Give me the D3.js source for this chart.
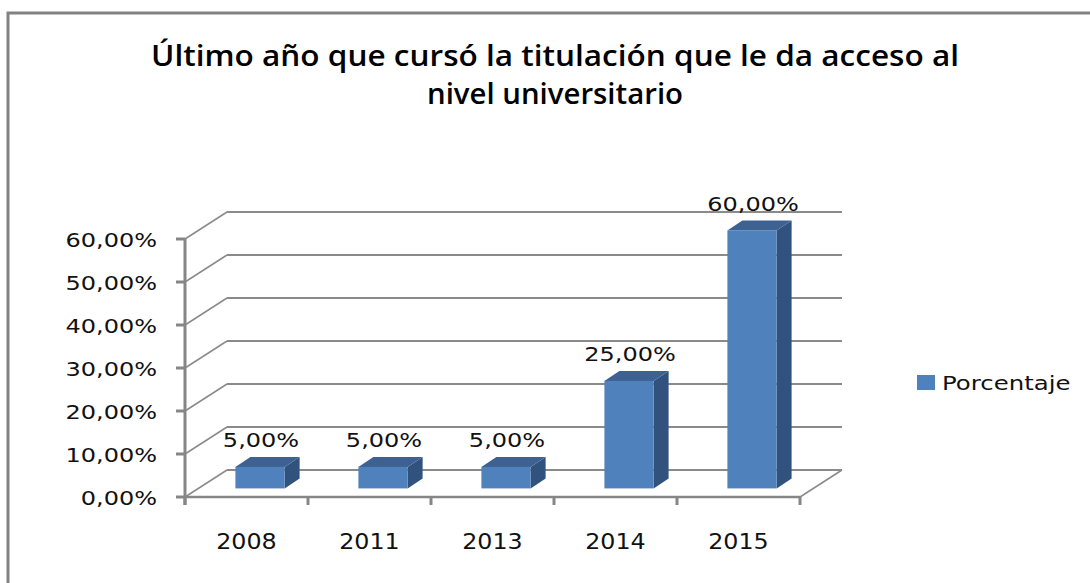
<!DOCTYPE html>
<html>
<head>
<meta charset="utf-8">
<script src="https://cdn.jsdelivr.net/npm/d3@7/dist/d3.min.js"></script>
<style>
  html, body { margin: 0; padding: 0; background: #fff; }
  svg { display: block; }
</style>
</head>
<body>
<svg id="chart" width="1090" height="583"></svg>
<script>
// ---- data ----
const categories = ["2008", "2011", "2013", "2014", "2015"];
const values = [5, 5, 5, 25, 60];
const yTicks = [0, 10, 20, 30, 40, 50, 60];
const seriesName = "Porcentaje";
const titleLines = ["Último año que cursó la titulación que le da acceso al", "nivel universitario"];

const fmt = v => d3.format(".2f")(v).replace(".", ",") + "%";

const svg = d3.select("#chart");
const W = 1090, H = 583;

// outer border (left + top visible)
svg.append("path")
  .attr("d", `M8,${H} L8,13 L${W},13`)
  .attr("fill", "none").attr("stroke", "#828282").attr("stroke-width", 3);

// scales
const x = d3.scaleBand().domain(categories).range([185, 800]);
const y = d3.scaleLinear().domain([0, 60]).range([497, 239]);
const DX = 42, DY = -27;             // wall depth
const BOFF_X = 13.5, BOFF_Y = -8.6;  // bar front offset into depth
const BDX = 15, BDY = -10;           // bar depth
const barW = x.bandwidth() * 0.4;

const gridColor = "#8a8a8a";
const axisColor = "#868686";

function stretch(sel, k) {
  sel.each(function () {
    const len = this.getComputedTextLength();
    d3.select(this).attr("textLength", len * k).attr("lengthAdjust", "spacingAndGlyphs");
  });
}

// back wall gridlines
const grid = svg.append("g");
grid.selectAll("line.back").data(yTicks).join("line")
  .attr("x1", 185 + DX).attr("x2", 800 + DX)
  .attr("y1", d => y(d) + DY).attr("y2", d => y(d) + DY)
  .attr("stroke", gridColor).attr("stroke-width", 2);
// side wall diagonals
grid.selectAll("line.side").data(yTicks).join("line")
  .attr("x1", 185).attr("x2", 185 + DX)
  .attr("y1", d => y(d)).attr("y2", d => y(d) + DY)
  .attr("stroke", gridColor).attr("stroke-width", 1.5);

// floor front edge and right diagonal
svg.append("line").attr("x1", 185).attr("x2", 800).attr("y1", y(0)).attr("y2", y(0))
  .attr("stroke", axisColor).attr("stroke-width", 2.5);
svg.append("line").attr("x1", 800).attr("x2", 800 + DX).attr("y1", y(0)).attr("y2", y(0) + DY)
  .attr("stroke", gridColor).attr("stroke-width", 1.5);

// y axis line & ticks
svg.append("line").attr("x1", 185).attr("x2", 185).attr("y1", y(60)).attr("y2", y(0) + 8)
  .attr("stroke", axisColor).attr("stroke-width", 3);
svg.selectAll("line.ytick").data(yTicks).join("line")
  .attr("x1", 176).attr("x2", 185)
  .attr("y1", d => y(d)).attr("y2", d => y(d))
  .attr("stroke", axisColor).attr("stroke-width", 3);

// category ticks
const catEdges = categories.map(c => x(c) + x.bandwidth()).concat([185]);
svg.selectAll("line.xtick").data(catEdges).join("line")
  .attr("x1", d => d).attr("x2", d => d)
  .attr("y1", y(0)).attr("y2", y(0) + 8)
  .attr("stroke", axisColor).attr("stroke-width", 3);

// y labels
svg.append("g").selectAll("text").data(yTicks).join("text")
  .attr("x", 157).attr("y", d => y(d) + 7.5)
  .attr("text-anchor", "end")
  .attr("font-family", "DejaVu Sans").attr("font-size", 20).attr("fill", "#111")
  .text(d => fmt(d))
  .call(stretch, 1.2);

// x labels
svg.append("g").selectAll("text").data(categories).join("text")
  .attr("x", d => x(d) + x.bandwidth() / 2)
  .attr("y", 549)
  .attr("text-anchor", "middle")
  .attr("font-family", "DejaVu Sans").attr("font-size", 22).attr("fill", "#111")
  .text(d => d)
  .call(stretch, 1.08);

// bars
const data = categories.map((c, i) => ({ c, v: values[i] }));
const bars = svg.append("g");
data.forEach(d => {
  const fx = x(d.c) + x.bandwidth() / 2 - barW / 2 + BOFF_X;
  const ty = y(d.v) + BOFF_Y;
  const by = y(0) + BOFF_Y;
  const g = bars.append("g");
  g.append("polygon")
    .attr("points", [[fx + barW, ty], [fx + barW + BDX, ty + BDY], [fx + barW + BDX, by + BDY], [fx + barW, by]].map(p => p.join(",")).join(" "))
    .attr("fill", "#31527c");
  g.append("polygon")
    .attr("points", [[fx, ty], [fx + BDX, ty + BDY], [fx + barW + BDX, ty + BDY], [fx + barW, ty]].map(p => p.join(",")).join(" "))
    .attr("fill", "#3d6291");
  g.append("rect")
    .attr("x", fx).attr("y", ty).attr("width", barW).attr("height", by - ty)
    .attr("fill", "#4f81bd");
  bars.append("text")
    .attr("x", fx + barW / 2 + 1)
    .attr("y", ty + BDY - 9.5)
    .attr("text-anchor", "middle")
    .attr("font-family", "DejaVu Sans").attr("font-size", 20).attr("fill", "#111")
    .text(fmt(d.v))
    .call(stretch, 1.2);
});

// legend
svg.append("rect").attr("x", 917).attr("y", 375).attr("width", 18).attr("height", 15).attr("fill", "#4f81bd");
svg.append("text").attr("x", 942).attr("y", 389.5)
  .attr("font-family", "DejaVu Sans").attr("font-size", 20).attr("fill", "#111")
  .text(seriesName)
  .call(stretch, 1.22);

// title
const tWidths = [808, 256];
const tY = [66, 104];
svg.append("g").selectAll("text").data(titleLines).join("text")
  .attr("x", 555).attr("y", (d, i) => tY[i])
  .attr("text-anchor", "middle")
  .attr("font-family", "Open Sans").attr("font-weight", 600).attr("font-size", 28).attr("fill", "#000")
  .attr("textLength", (d, i) => tWidths[i]).attr("lengthAdjust", "spacingAndGlyphs")
  .text(d => d);
</script>
</body>
</html>
